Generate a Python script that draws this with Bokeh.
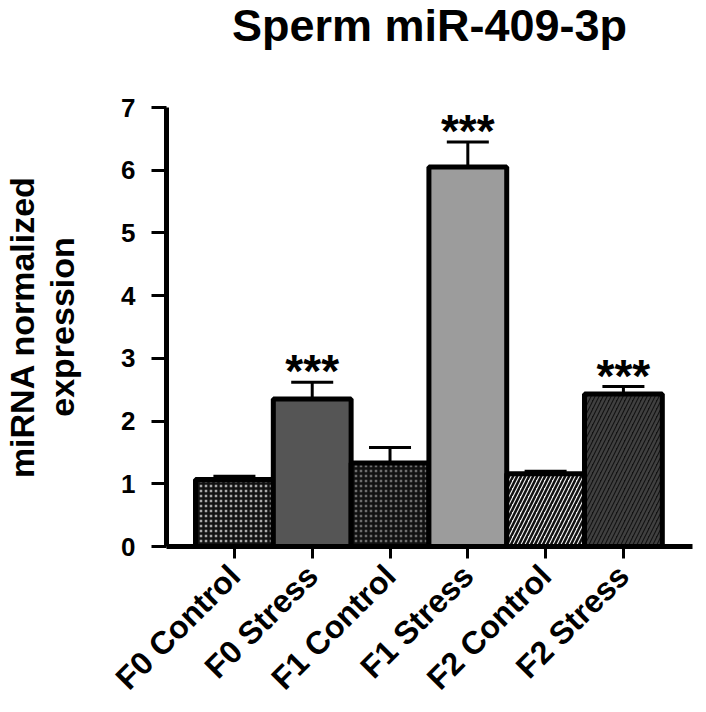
import math
from bokeh.plotting import figure
from bokeh.models import FixedTicker, Range1d, Title
from bokeh.core.properties import value
from bokeh.embed import file_html
from bokeh.resources import INLINE

# ---- data ----
categories = ["F0 Control", "F0 Stress", "F1 Control", "F1 Stress", "F2 Control", "F2 Stress"]
means = [1.07, 2.35, 1.33, 6.05, 1.16, 2.43]
errors = [0.05, 0.27, 0.25, 0.40, 0.04, 0.12]
significance = ["", "***", "", "***", "", "***"]
y_ticks = [0, 1, 2, 3, 4, 5, 6, 7]
title_text = "Sperm miR-409-3p"

fill_colors = ["#a8a8a8", "#555555", "#6e6e6e", "#9c9c9c", "#f4f4f4", "#121212"]
hatch_patterns = ["cross", " ", "cross", " ", "right_diagonal_line", "right_diagonal_line"]
hatch_colors = ["#111111", "#555555", "#111111", "#9c9c9c", "#111111", "#404040"]
hatch_scales = [5, 5, 5, 5, 8, 8]
hatch_weights = [2.5, 1, 2.5, 1, 2.5, 2.5]

FONT = "Liberation Sans"

xs = list(range(len(categories)))
tops = [m + e for m, e in zip(means, errors)]

p = figure(width=706, height=712, output_backend="svg", toolbar_location=None,
           x_range=Range1d(-0.873, 5.888), y_range=Range1d(0, 7),
           min_border_left=166, min_border_right=14, min_border_top=107, min_border_bottom=164)
p.outline_line_color = None
p.xgrid.visible = False
p.ygrid.visible = False
p.title = None

# spacer (closest to the frame) then the real title on top
p.add_layout(Title(text=" ", text_font_size="1px", standoff=53), "above")
p.add_layout(Title(text=title_text, text_font=FONT, text_font_size="45px",
                   text_font_style="bold", text_color="black", align="center",
                   vertical_align="top", standoff=-2), "above")

for i in xs:
    p.vbar(x=[xs[i]], top=[means[i]], width=1.0, bottom=0,
           fill_color=fill_colors[i], hatch_pattern=hatch_patterns[i], hatch_color=hatch_colors[i],
           hatch_scale=hatch_scales[i], hatch_weight=hatch_weights[i],
           line_color="black", line_width=5)

# error bars (upper only)
p.segment(x0=xs, y0=means, x1=xs, y1=tops, line_color="black", line_width=3)
p.segment(x0=[x - 0.27 for x in xs], y0=tops, x1=[x + 0.27 for x in xs], y1=tops,
          line_color="black", line_width=3)

# significance stars
p.text(x=xs, y=tops, text=significance, text_font=value(FONT), text_font_size="46px",
       text_font_style="bold", text_align="center", text_baseline="alphabetic",
       y_offset=-11, text_color="black")

# axes
p.xaxis.ticker = FixedTicker(ticks=xs)
p.xaxis.major_label_overrides = {i: c for i, c in zip(xs, categories)}
p.xaxis.major_label_orientation = math.pi / 4
p.xaxis.major_label_text_font = FONT
p.xaxis.major_label_text_font_size = "32px"
p.xaxis.major_label_text_font_style = "bold"
p.xaxis.major_label_text_color = "black"
p.xaxis.minor_tick_line_color = None
p.xaxis.major_tick_in = 0
p.xaxis.major_tick_out = 12
p.xaxis.major_tick_line_width = 3
p.xaxis.axis_line_width = 5
p.xaxis.major_label_standoff = 12

p.yaxis.ticker = FixedTicker(ticks=y_ticks)
p.yaxis.major_label_text_font = FONT
p.yaxis.major_label_text_font_size = "26px"
p.yaxis.major_label_text_font_style = "bold"
p.yaxis.major_label_text_color = "black"
p.yaxis.minor_tick_line_color = None
p.yaxis.major_tick_in = 0
p.yaxis.major_tick_out = 15
p.yaxis.major_tick_line_width = 3
p.yaxis.axis_line_width = 5
p.yaxis.major_label_standoff = 16
p.yaxis.axis_label = "miRNA normalized\nexpression"
p.yaxis.axis_label_text_font = FONT
p.yaxis.axis_label_text_font_size = "34px"
p.yaxis.axis_label_text_font_style = "bold"
p.yaxis.axis_label_text_color = "black"
p.yaxis.axis_label_text_line_height = 1.05
p.yaxis.axis_label_standoff = 37

open("out.html", "w").write(file_html(p, INLINE))
